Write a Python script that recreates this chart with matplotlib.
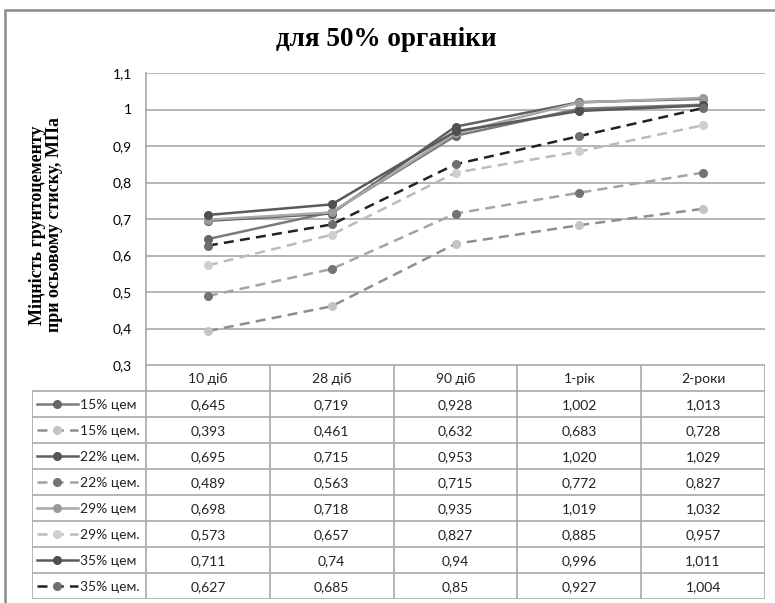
import matplotlib.pyplot as plt
from matplotlib.patches import Rectangle

# дані міцності, МПа
periods = ["10 діб", "28 діб", "90 діб", "1-рік", "2-роки"]
series_names = ["15% цем", "15% цем.", "22% цем.", "22% цем.",
                "29% цем", "29% цем.", "35% цем", "35% цем."]
s15 = [0.645, 0.719, 0.928, 1.002, 1.013]
s15d = [0.393, 0.461, 0.632, 0.683, 0.728]
s22 = [0.695, 0.715, 0.953, 1.020, 1.029]
s22d = [0.489, 0.563, 0.715, 0.772, 0.827]
s29 = [0.698, 0.718, 0.935, 1.019, 1.032]
s29d = [0.573, 0.657, 0.827, 0.885, 0.957]
s35 = [0.711, 0.74, 0.94, 0.996, 1.011]
s35d = [0.627, 0.685, 0.85, 0.927, 1.004]
table_text = [
    ["0,645", "0,719", "0,928", "1,002", "1,013"],
    ["0,393", "0,461", "0,632", "0,683", "0,728"],
    ["0,695", "0,715", "0,953", "1,020", "1,029"],
    ["0,489", "0,563", "0,715", "0,772", "0,827"],
    ["0,698", "0,718", "0,935", "1,019", "1,032"],
    ["0,573", "0,657", "0,827", "0,885", "0,957"],
    ["0,711", "0,74", "0,94", "0,996", "1,011"],
    ["0,627", "0,685", "0,85", "0,927", "1,004"],
]
yticks = [0.3, 0.4, 0.5, 0.6, 0.7, 0.8, 0.9, 1.0, 1.1]

all_series = [s15, s15d, s22, s22d, s29, s29d, s35, s35d]
# (колір лінії, колір маркера, пунктир)
styles = [
    ("#7a7a7a", "#666666", False),
    ("#8e8e8e", "#c4c4c4", True),
    ("#606060", "#555555", False),
    ("#a4a4a4", "#737373", True),
    ("#a8a8a8", "#9a9a9a", False),
    ("#bcbcbc", "#cfcfcf", True),
    ("#5a5a5a", "#505050", False),
    ("#222222", "#6e6e6e", True),
]

W, H = 775, 603
sans = "Lato"
serif = "Liberation Serif"
grid_c = "#a8a8a8"
fs = 10

fig = plt.figure(figsize=(W / 100, H / 100), dpi=100)

# рамка діаграми
fig.patches.append(Rectangle((5 / W, -0.02), 1.0, 1 - 10 / H + 0.02, transform=fig.transFigure,
                             fill=False, ec="#8a8a8a", lw=1.8))

fig.text(0.498, 1 - 40 / H, "для 50% органіки", ha="center", va="center",
         fontsize=19.5, fontweight="bold", family=serif)
fig.text(46 / W, 1 - 225 / H, "Міцність грунтоцементу\nпри осьовому стиску, МПа",
         rotation=90, ha="center", va="center", multialignment="center",
         fontsize=13, fontweight="bold", family=serif, linespacing=0.95)

ax = fig.add_axes([146 / W, 1 - 365 / H, (765 - 146) / W, (365 - 73) / H])
x = list(range(len(periods)))

def draw_line(a, xs, ys, st, **kw):
    lc, mc, dashed = st
    ln, = a.plot(xs, ys, color=lc, lw=1.8, marker="o", ms=5.5, mfc=mc, mec=mc, **kw)
    if dashed:
        ln.set_dashes((4.0, 2.5))
    return ln

for ys, st in zip(all_series, styles):
    draw_line(ax, x, ys, st, zorder=3, solid_capstyle="butt", dash_capstyle="butt")

ax.set_xlim(-0.5, 4.5)
ax.set_ylim(0.3, 1.1)
ax.set_yticks(yticks)
ax.set_yticklabels([f"{v:g}".replace(".", ",") for v in yticks], family=sans, fontsize=fs)
ax.tick_params(axis="y", length=0, pad=10)
ax.set_xticks([])
ax.grid(axis="y", color=grid_c, lw=1.2)
for side in ["top", "right", "bottom"]:
    ax.spines[side].set_visible(False)
ax.spines["left"].set_color(grid_c)
ax.spines["left"].set_linewidth(1.2)

# таблиця даних під графіком
leg_w = 114 / ((765 - 146) / 5)
tx0 = -0.5 - leg_w
tab = fig.add_axes([32 / W, 1 - 599 / H, (765 - 32) / W, (599 - 365) / H])
tab.set_xlim(tx0, 4.5)
tab.set_ylim(9, 0)
tab.axis("off")
nrows = len(series_names) + 1
tab.hlines(0, -0.5, 4.5, color=grid_c, lw=1.2)
tab.hlines(range(1, nrows + 1), tx0, 4.5, color=grid_c, lw=1.2)
tab.vlines([i + 0.5 for i in range(-1, len(periods))], 0, nrows, color=grid_c, lw=1.2)
tab.vlines(tx0, 1, nrows, color=grid_c, lw=1.2)

for j, p in enumerate(periods):
    tab.text(j, 0.55, p, ha="center", va="center", family=sans, fontsize=fs, color="#222222")
for i, (name, st, row) in enumerate(zip(series_names, styles, table_text)):
    yc = i + 1.55
    draw_line(tab, [tx0 + 0.04, tx0 + 0.37], [yc - 0.05, yc - 0.05], st, markevery=[])
    lc, mc, _ = st
    tab.plot(tx0 + 0.205, yc - 0.05, "o", ms=5.5, color=mc)
    tab.text(tx0 + 0.39, yc, name, ha="left", va="center", family=sans, fontsize=fs, color="#222222")
    for j, val in enumerate(row):
        tab.text(j, yc, val, ha="center", va="center", family=sans, fontsize=fs, color="#222222")

fig.savefig("out.png", dpi=100)
